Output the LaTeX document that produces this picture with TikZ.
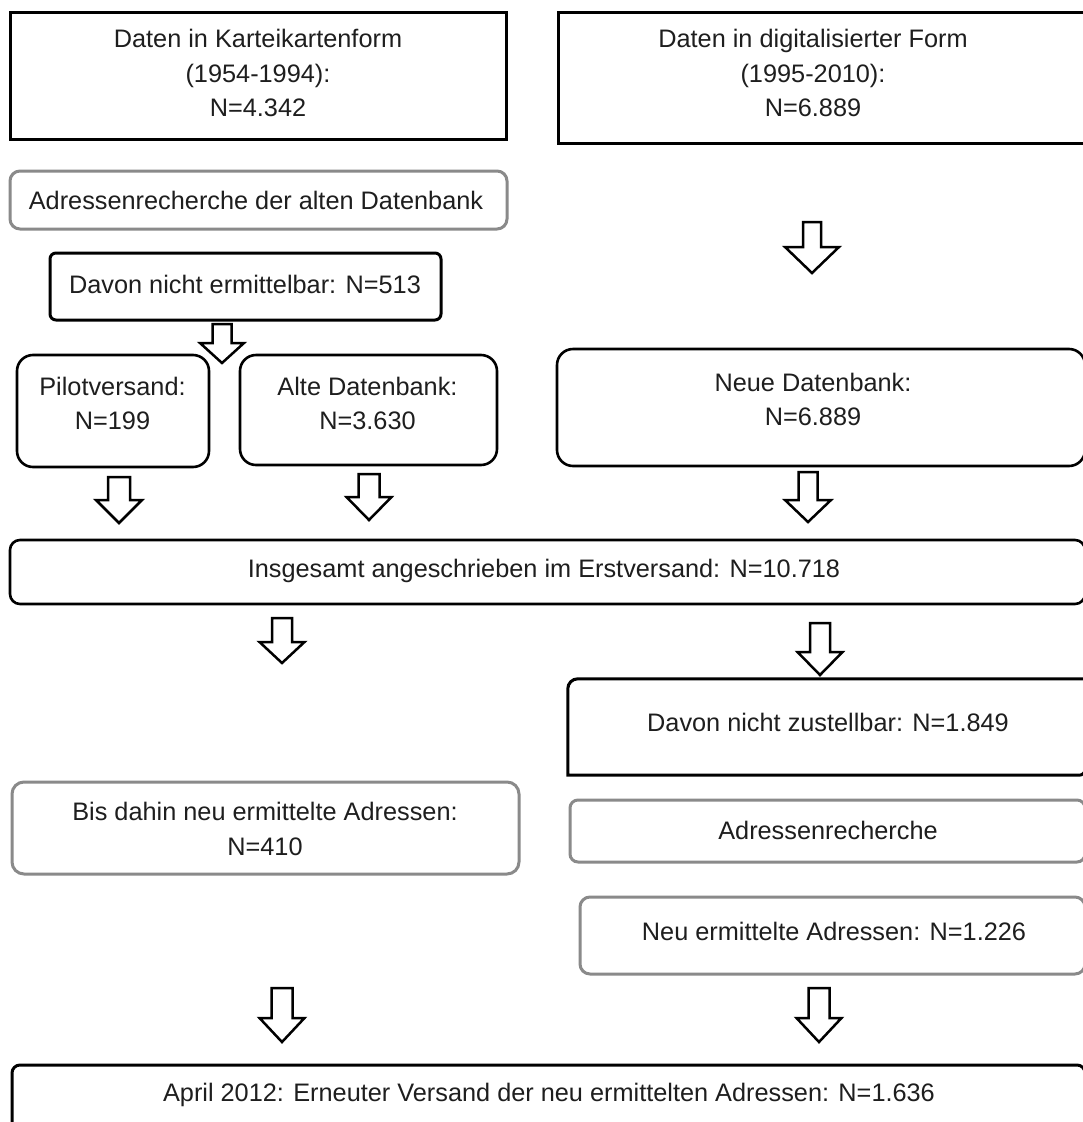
\documentclass[tikz,border=0pt]{standalone}
\usepackage{fontspec}
\setmainfont{Liberation Sans}
\newcommand{\blockarrow}[7]{%
  \draw[barrow] ({#2-#6/2},#3) -- ({#2+#6/2},#3) -- ({#2+#6/2},#4) -- ({#2+#7/2},#4)
    -- (#2,#5) -- ({#2-#7/2},#4) -- ({#2-#6/2},#4) -- cycle;
  \coordinate (#1) at (#2,#5);}
\definecolor{txt}{HTML}{1E1E1E}
\definecolor{gbox}{HTML}{8A8A8A}
\begin{document}
\begin{tikzpicture}[x=1pt,y=-1pt,
  blackbox/.style={draw=black,line width=3pt,fill=none,inner sep=0pt},
  graybox/.style={draw=gbox,line width=3pt,fill=none,inner sep=0pt},
  lbl/.style={text=txt,align=center,inner sep=0pt,font=\fontsize{25.3}{34.5}\selectfont},
  barrow/.style={draw=black,line width=2.5pt,fill=white,line join=miter}]
\useasboundingbox (0,0) rectangle (1083,1122);
\clip (0,0) rectangle (1083,1122);
\fill[white] (0,0) rectangle (1083,1122);
% boxes
\node[blackbox,minimum width=496pt,minimum height=127pt] (b1) at (258,75.5) {};
\node[blackbox,minimum width=532pt,minimum height=131pt] (b2) at (824,77.5) {};
\node[graybox,rounded corners=10pt,minimum width=497pt,minimum height=58pt] (b3) at (258.5,200) {};
\node[blackbox,rounded corners=6pt,minimum width=391pt,minimum height=67pt] (b4) at (245.5,286.5) {};
\node[blackbox,line width=2.6pt,rounded corners=16pt,minimum width=192pt,minimum height=112pt] (b5) at (113,411) {};
\node[blackbox,line width=2.6pt,rounded corners=16pt,minimum width=257pt,minimum height=110pt] (b6) at (368.5,410) {};
\node[blackbox,line width=2.6pt,rounded corners=16pt,minimum width=528pt,minimum height=117pt] (b7) at (821,407.5) {};
\node[blackbox,line width=2.6pt,rounded corners=10pt,minimum width=1075pt,minimum height=64pt] (b8) at (547.5,572) {};
\node[inner sep=0pt,minimum width=517pt,minimum height=96pt] (b9) at (826.5,727) {};
\draw[black,line width=3pt]
  (b9.south west) -- ([yshift=-10pt]b9.north west) to[out=90,in=180] ([xshift=10pt]b9.north west)
  -- (b9.north east) -- ([yshift=6pt]b9.south east) to[out=-90,in=0] ([xshift=-6pt]b9.south east) -- cycle;
\node[graybox,rounded corners=12pt,minimum width=507pt,minimum height=92pt] (b10) at (265.5,828) {};
\node[graybox,rounded corners=8pt,minimum width=515pt,minimum height=62pt] (b11) at (827.5,831) {};
\node[graybox,rounded corners=10pt,minimum width=505pt,minimum height=77pt] (b12) at (832.5,935.5) {};
\node[blackbox,rounded corners=8pt,minimum width=1073pt,minimum height=75pt] (b13) at (548.5,1102.5) {};
% texts
\node[lbl] (t1) at (258,73) {Daten in Karteikartenform\\(1954-1994):\\N=4.342};
\node[lbl] (t2) at (813,73) {Daten in digitalisierter Form\\(1995-2010):\\N=6.889};
\node[lbl] (t3) at (256,200) {Adressenrecherche der alten Datenbank};
\node[lbl] (t4) at (245,284) {Davon nicht ermittelbar: N=513};
\node[lbl] (t5) at (112.5,403.5) {Pilotversand:\\N=199};
\node[lbl] (t6) at (367.5,403.5) {Alte Datenbank:\\N=3.630};
\node[lbl] (t7) at (813,399.5) {Neue Datenbank:\\N=6.889};
\node[lbl] (t8) at (544,571) {Insgesamt angeschrieben im Erstversand: N=10.718};
\node[lbl] (t9) at (828,722) {Davon nicht zustellbar: N=1.849};
\node[lbl] (t10) at (265,829) {Bis dahin neu ermittelte Adressen:\\N=410};
\node[lbl] (t11) at (828,830) {Adressenrecherche};
\node[lbl] (t12) at (834,931) {Neu ermittelte Adressen: N=1.226};
\node[lbl] (t13) at (549,1095) {April 2012: Erneuter Versand der neu ermittelten Adressen: N=1.636};
% block arrows
\blockarrow{a0}{222}{324}{343}{363}{19}{44}
\blockarrow{a1}{812}{222}{247}{273}{18}{54}
\blockarrow{a2}{119}{477}{500}{523}{22}{46}
\blockarrow{a3}{369}{474}{497}{520}{21}{45}
\blockarrow{a4}{808}{472}{500}{522}{19}{46}
\blockarrow{a5}{282}{618}{642}{663}{20}{45}
\blockarrow{a6}{820}{623}{652}{675}{20}{45}
\blockarrow{a7}{282}{988}{1018}{1042}{21}{45}
\blockarrow{a8}{819}{988}{1018}{1042}{21}{45}
\end{tikzpicture}
\end{document}
